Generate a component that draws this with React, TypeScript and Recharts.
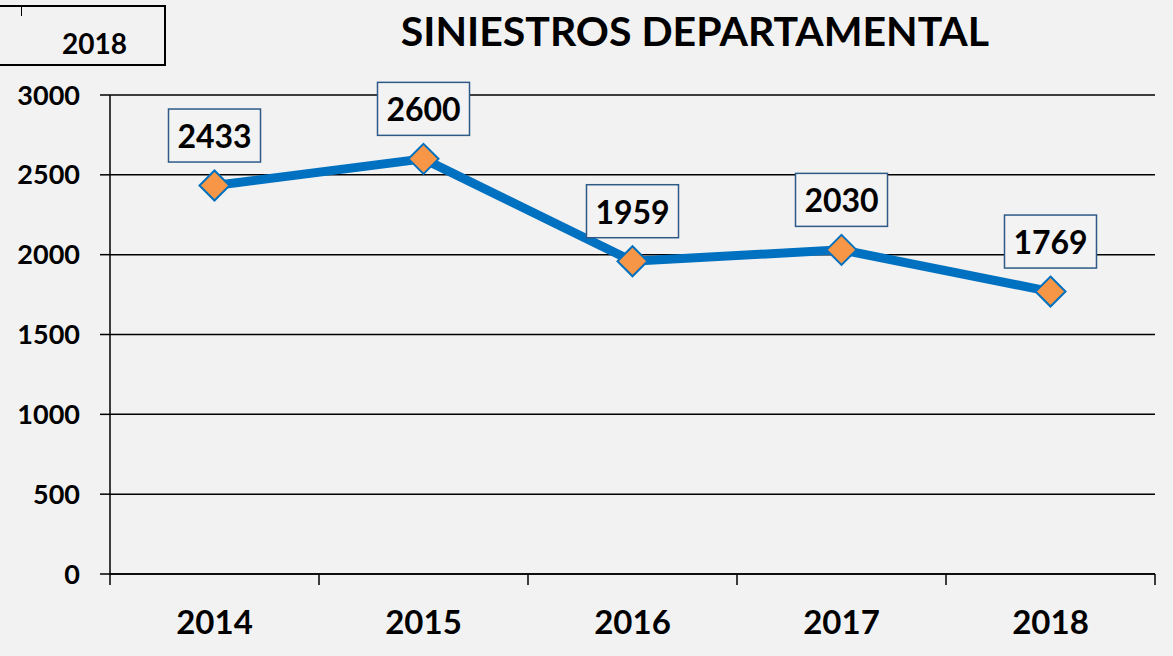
import { LineChart, Line, XAxis, YAxis, CartesianGrid, LabelList } from 'recharts';

const years = ['2014', '2015', '2016', '2017', '2018'];
const siniestros = [2433, 2600, 1959, 2030, 1769];
const yTicks = [0, 500, 1000, 1500, 2000, 2500, 3000];

const data = years.map((year, i) => ({ pos: i + 1, year, value: siniestros[i] }));
const boundaryTicks = [0.5, 1.5, 2.5, 3.5, 4.5, 5.5];
const centerTicks = data.map((d) => d.pos);

const FONT = 'Lato, "Open Sans", sans-serif';

const Diamond = (props: any) => {
  const { cx, cy } = props;
  if (cx == null || cy == null) return null;
  const r = 15;
  return (
    <polygon
      points={`${cx},${cy - r} ${cx + r},${cy} ${cx},${cy + r} ${cx - r},${cy}`}
      fill="#f79646"
      stroke="#0070c0"
      strokeWidth={2}
    />
  );
};

const ValueBox = (props: any) => {
  const { x, y, value } = props;
  const w = 92;
  const h = 53;
  const cy = y - 50;
  return (
    <g>
      <rect x={x - w / 2} y={cy - h / 2} width={w} height={h} fill="#f3f3f3" stroke="#2e5a88" strokeWidth={1.5} />
      <text x={x} y={cy} textAnchor="middle" dominantBaseline="central" fontSize={32} fontWeight={700} fill="#000" fontFamily={FONT}>
        {value}
      </text>
    </g>
  );
};

export default function App() {
  return (
    <div style={{ position: 'absolute', left: 0, top: 0, width: 1173, height: 656, background: '#f2f2f2', fontFamily: FONT, overflow: 'hidden' }}>
      <div style={{ position: 'absolute', left: -2, top: 5, width: 166, height: 57, borderTop: '2px solid #000', borderRight: '2px solid #000', borderBottom: '2px solid #000' }}>
        <div style={{ position: 'absolute', left: 23, top: 0, width: 1, height: 9, background: '#000' }} />
        <div style={{ position: 'absolute', left: 0, right: 0, top: 19, textAlign: 'right', paddingRight: 37, fontSize: 28, fontWeight: 700 }}>2018</div>
      </div>
      <div style={{ position: 'absolute', left: 200, width: 990, top: 6, textAlign: 'center', fontSize: 41, fontWeight: 700, color: '#000' }}>
        SINIESTROS DEPARTAMENTAL
      </div>
      <div style={{ position: 'absolute', left: 0, top: 0 }}>
        <LineChart width={1173} height={656} data={data} margin={{ top: 95, right: 18, bottom: 0, left: 0 }}>
          <CartesianGrid horizontal vertical={false} stroke="#000" strokeWidth={1.5} />
          <XAxis
            xAxisId="axis"
            dataKey="pos"
            type="number"
            domain={[0.5, 5.5]}
            ticks={boundaryTicks}
            interval={0}
            tickFormatter={() => ''}
            tickSize={11}
            height={12}
            stroke="#000"
            strokeWidth={1.5}
          />
          <XAxis
            xAxisId="labels"
            dataKey="pos"
            type="number"
            domain={[0.5, 5.5]}
            ticks={centerTicks}
            interval={0}
            tickFormatter={(v) => years[v - 1]}
            axisLine={false}
            tickLine={false}
            height={70}
            tickMargin={19}
            tick={{ fill: '#000', fontSize: 33, fontWeight: 700, fontFamily: FONT }}
          />
          <YAxis
            domain={[0, 3000]}
            ticks={yTicks}
            width={110}
            tickSize={10}
            tickMargin={20}
            stroke="#000"
            strokeWidth={1.5}
            tick={{ fill: '#000', fontSize: 27, fontWeight: 700, fontFamily: FONT }}
          />
          <Line
            xAxisId="axis"
            dataKey="value"
            stroke="#0070c0"
            strokeWidth={9}
            dot={<Diamond />}
            activeDot={false}
            isAnimationActive={false}
          >
            <LabelList dataKey="value" content={<ValueBox />} />
          </Line>
        </LineChart>
      </div>
    </div>
  );
}
